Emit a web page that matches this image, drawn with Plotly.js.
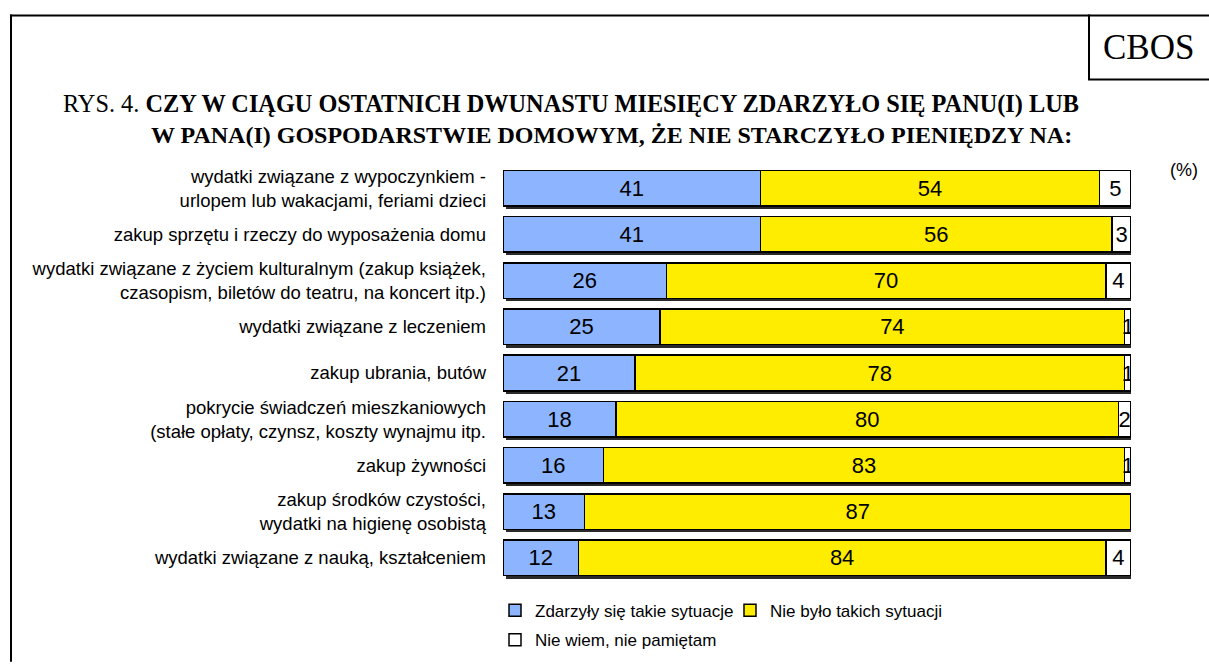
<!DOCTYPE html>
<html>
<head>
<meta charset="utf-8">
<script src="https://cdn.plot.ly/plotly-3.0.1.min.js"></script>
<style>html,body{margin:0;padding:0;background:#fff;}#chart{width:1209px;height:670px;}</style>
</head>
<body>
<div id="chart"></div>
<script>
const categories = [
  "wydatki związane z wypoczynkiem -<br>urlopem lub wakacjami, feriami dzieci",
  "zakup sprzętu i rzeczy do wyposażenia domu",
  "wydatki związane z życiem kulturalnym (zakup książek,<br>czasopism, biletów do teatru, na koncert itp.)",
  "wydatki związane z leczeniem",
  "zakup ubrania, butów",
  "pokrycie świadczeń mieszkaniowych<br>(stałe opłaty, czynsz, koszty wynajmu itp.",
  "zakup żywności",
  "zakup środków czystości,<br>wydatki na higienę osobistą",
  "wydatki związane z nauką, kształceniem"
];
const seriesNames = ["Zdarzyły się takie sytuacje", "Nie było takich sytuacji", "Nie wiem, nie pamiętam"];
const happened = [41, 41, 26, 25, 21, 18, 16, 13, 12];
const notHappened = [54, 56, 70, 74, 78, 80, 83, 87, 84];
const dontKnow = [5, 3, 4, 1, 1, 2, 1, 0, 4];
const titleLine1 = "RYS. 4. <b>CZY W CIĄGU OSTATNICH DWUNASTU MIESIĘCY ZDARZYŁO SIĘ PANU(I) LUB</b>";
const titleLine2 = "<b>W PANA(I) GOSPODARSTWIE DOMOWYM, ŻE NIE STARCZYŁO PIENIĘDZY NA:</b>";

const W = 1209, H = 670;
const M = {l: 503, r: 78, t: 165, b: 82};
const PW = W - M.l - M.r, PH = H - M.t - M.b;
const px = v => (v - M.l) / PW;
const py = v => 1 - (v - M.t) / PH;
const nCat = categories.length;
const catIdx = categories.map((c, i) => i);
const SH = 3; // shadow offset in px
const xShift = SH / PW * 100;
const yShift = SH / PH * nCat;

const colors = ["#8cb4ff", "#ffed00", "#ffffff"];
const sets = [happened, notHappened, dontKnow];
const legends = ["legend", "legend", "legend2"];

const totals = categories.map((c, i) => happened[i] + notHappened[i] + dontKnow[i]);
// drop shadow: totals drawn on a numeric axis pair shifted by a few pixels
const shadow = {
  type: "bar", orientation: "h", y: catIdx, x: totals,
  marker: {color: "#2a2a2a", line: {width: 0}},
  cliponaxis: false,
  showlegend: false, hoverinfo: "skip", xaxis: "x3", yaxis: "y3"
};

const traces = [shadow].concat(sets.map((vals, i) => ({
  type: "bar",
  orientation: "h",
  name: seriesNames[i],
  y: categories,
  x: vals,
  text: vals.map(v => v ? String(v) : ""),
  textposition: "inside",
  insidetextanchor: "middle",
  constraintext: "none",
  textangle: 0,
  textfont: {family: "Liberation Sans, Arial, sans-serif", size: 22, color: "#000"},
  marker: {color: colors[i], line: {color: "#000", width: 1.5}},
  legend: legends[i],
  hoverinfo: "skip"
})));

const lineStyle = {color: "#000", width: 2};
const axBase = {showgrid: false, zeroline: false, ticks: "", showline: false, fixedrange: true};
const layout = {
  width: W, height: H,
  margin: M,
  paper_bgcolor: "#fff", plot_bgcolor: "#fff",
  barmode: "stack",
  bargap: 0.23,
  showlegend: true,
  font: {family: "Liberation Sans, Arial, sans-serif", size: 17, color: "#000"},
  xaxis: Object.assign({}, axBase, {range: [0, 100], showticklabels: false, domain: [0, 1]}),
  yaxis: Object.assign({}, axBase, {range: [nCat - 0.5, -0.5], type: "category", domain: [0, 1],
          ticklabelstandoff: 16, tickfont: {size: 18.5}}),
  xaxis3: Object.assign({}, axBase, {range: [-xShift, 100 - xShift], showticklabels: false, domain: [0, 1], anchor: "y3"}),
  yaxis3: Object.assign({}, axBase, {range: [nCat - 0.5 - yShift, -0.5 - yShift], type: "linear", showticklabels: false, domain: [0, 1], anchor: "x3"}),
  legend: {orientation: "h", xref: "paper", yref: "paper", x: px(495), y: py(600), xanchor: "left", yanchor: "top",
           entrywidth: 190, entrywidthmode: "pixels", font: {size: 17}, traceorder: "normal", itemclick: false, itemdoubleclick: false},
  legend2: {orientation: "h", xref: "paper", yref: "paper", x: px(495), y: py(630), xanchor: "left", yanchor: "top",
           font: {size: 17}, itemclick: false, itemdoubleclick: false},
  shapes: [
    {type: "line", xref: "paper", yref: "paper", x0: px(10), x1: px(1209), y0: py(13), y1: py(13), line: lineStyle},
    {type: "line", xref: "paper", yref: "paper", x0: px(11), x1: px(11), y0: py(12), y1: py(670), line: lineStyle},
    {type: "line", xref: "paper", yref: "paper", x0: px(1089), x1: px(1089), y0: py(12), y1: py(78), line: lineStyle},
    {type: "line", xref: "paper", yref: "paper", x0: px(1088), x1: px(1209), y0: py(78), y1: py(78), line: lineStyle}
  ],
  annotations: [
    {xref: "paper", yref: "paper", x: px(1148), y: py(46), xanchor: "center", yanchor: "middle", showarrow: false,
     text: "CBOS", font: {family: "Liberation Serif, Times New Roman, serif", size: 35, color: "#000"}},
    {xref: "paper", yref: "paper", x: px(61), y: py(103), xanchor: "left", yanchor: "middle", showarrow: false,
     text: titleLine1, font: {family: "Liberation Serif, Times New Roman, serif", size: 24.3, color: "#000"}},
    {xref: "paper", yref: "paper", x: px(149), y: py(134), xanchor: "left", yanchor: "middle", showarrow: false,
     text: titleLine2, font: {family: "Liberation Serif, Times New Roman, serif", size: 24, color: "#000"}},
    {xref: "paper", yref: "paper", x: px(1184), y: py(170), xanchor: "center", yanchor: "middle", showarrow: false,
     text: "(%)", font: {size: 18, color: "#000"}}
  ]
};

// draw the shadow subplot underneath: put it first in the subplot order by making the main subplot overlay it
layout.xaxis.overlaying = "x3";
layout.yaxis.overlaying = "y3";

Plotly.newPlot("chart", traces, layout, {displayModeBar: false, staticPlot: true});
</script>
</body>
</html>
